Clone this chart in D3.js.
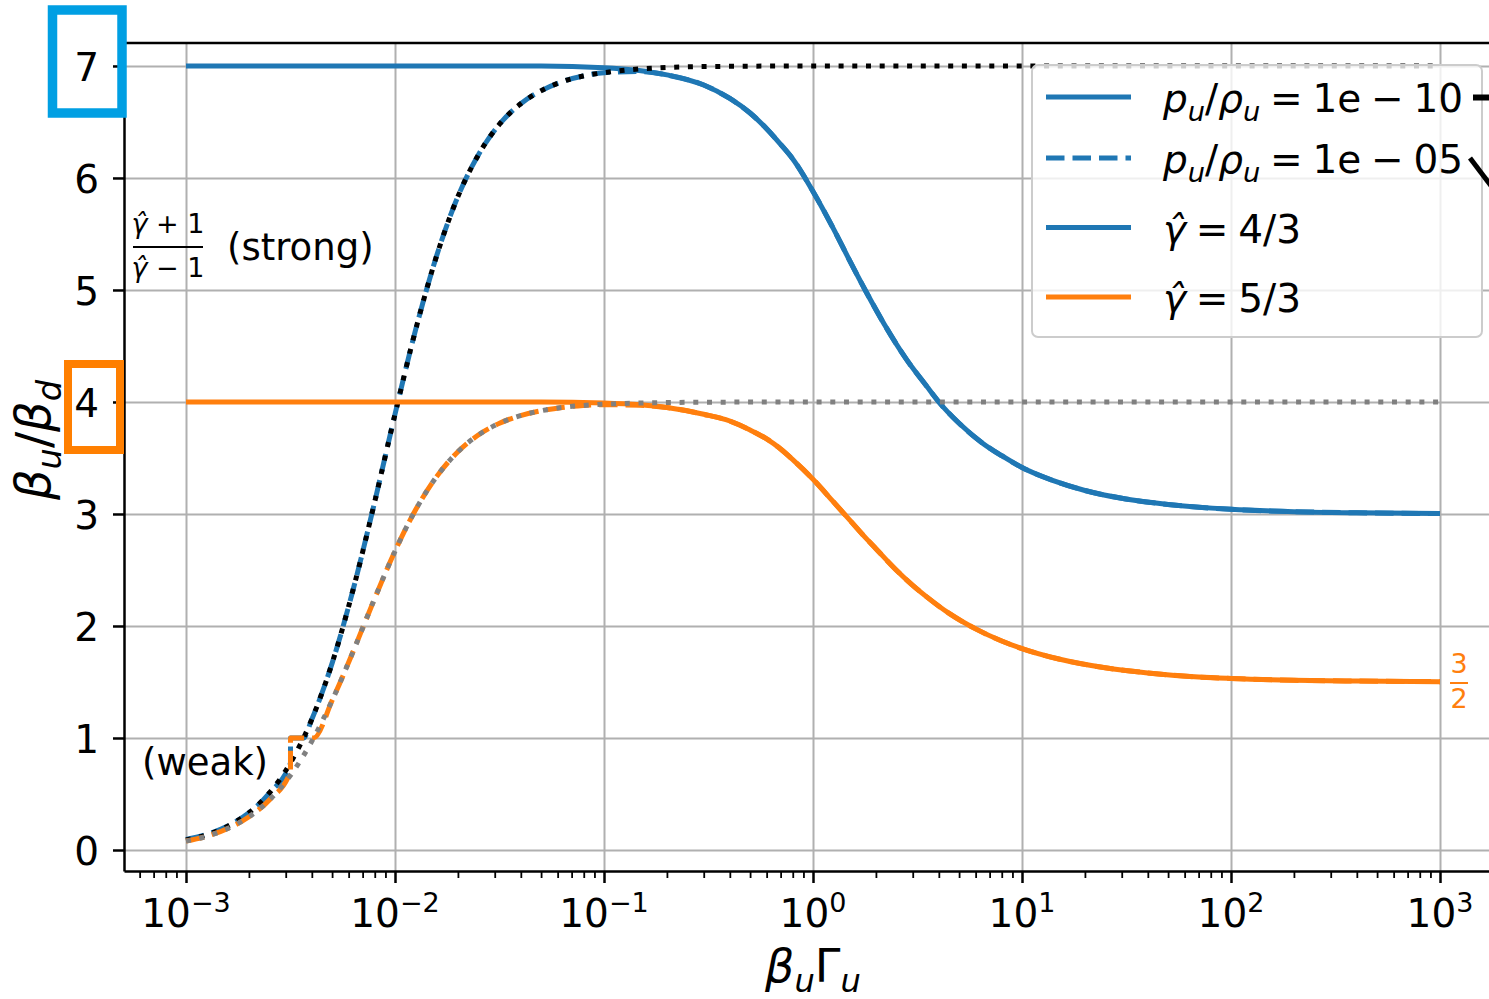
<!DOCTYPE html>
<html>
<head>
<meta charset="utf-8">
<script src="https://cdn.jsdelivr.net/npm/d3@7"></script>
<style>
  body { margin: 0; background: #ffffff; }
  svg text { font-family: "DejaVu Sans", sans-serif; }
</style>
</head>
<body>
<svg id="chart" width="1489" height="999"></svg>
<script>
// ---------- data ----------
// axis ticks
const xTickExps = [-3, -2, -1, 0, 1, 2, 3];
const yTicks = [0, 1, 2, 3, 4, 5, 6, 7];

// gamma_hat = 4/3, p_u/rho_u = 1e-10 (solid blue)
const blueSolidX = [0.001, 0.01, 0.05, 0.1, 0.2, 0.3, 0.4, 0.5, 0.6, 0.7, 0.8, 1.0, 1.25, 1.5, 1.8, 2.2, 2.8, 3.5, 4.0, 5.0, 6.5, 8, 10, 14, 20, 30, 50, 100, 200, 400, 1000];
const blueSolidY = [7.0, 7.0, 7.0, 6.985, 6.92, 6.83, 6.71, 6.58, 6.44, 6.30, 6.17, 5.88, 5.55, 5.26, 4.98, 4.69, 4.38, 4.14, 4.0, 3.81, 3.63, 3.52, 3.415, 3.30, 3.21, 3.14, 3.085, 3.042, 3.021, 3.011, 3.004];

// gamma_hat = 4/3, p_u/rho_u = 1e-5 (dashed blue)
const blueDashX = [0.001, 0.001259, 0.001585, 0.001995, 0.002512, 0.003162, 0.0031625, 0.00365, 0.003981, 0.005012, 0.00631, 0.007943, 0.01, 0.01259, 0.01585, 0.01995, 0.02512, 0.03162, 0.03981, 0.05012, 0.0631, 0.07943, 0.1, 0.15, 0.2, 0.3, 0.4, 0.5, 0.6, 0.7, 0.8, 1.0, 1.25, 1.5, 1.8, 2.2, 2.8, 3.5, 4.0, 5.0, 6.5, 8, 10, 14, 20, 30, 50, 100, 200, 400, 1000];
const blueDashY = [0.095, 0.14, 0.215, 0.33, 0.51, 0.778, 1.0, 1.0, 1.158, 1.673, 2.328, 3.086, 3.89, 4.654, 5.31, 5.829, 6.21, 6.48, 6.66, 6.78, 6.86, 6.91, 6.94, 6.95, 6.92, 6.83, 6.71, 6.58, 6.44, 6.30, 6.17, 5.88, 5.55, 5.26, 4.98, 4.69, 4.38, 4.14, 4.0, 3.81, 3.63, 3.52, 3.415, 3.30, 3.21, 3.14, 3.085, 3.042, 3.021, 3.011, 3.004];

// Rankine-Hugoniot ratio, gamma_hat = 4/3 (black dotted)
const blackDotX = [0.001, 0.001259, 0.001585, 0.001995, 0.002512, 0.003162, 0.003981, 0.005012, 0.00631, 0.007943, 0.01, 0.01259, 0.01585, 0.01995, 0.02512, 0.03162, 0.03981, 0.05012, 0.0631, 0.07943, 0.1, 0.1585, 0.3162, 1, 1000];
const blackDotY = [0.09, 0.136, 0.213, 0.331, 0.512, 0.778, 1.158, 1.673, 2.328, 3.086, 3.89, 4.654, 5.31, 5.829, 6.21, 6.48, 6.66, 6.78, 6.86, 6.91, 6.94, 6.977, 6.995, 7.0, 7.0];

// gamma_hat = 5/3, p_u/rho_u = 1e-10 (solid orange)
const orangeSolidX = [0.001, 0.01, 0.05, 0.1, 0.2, 0.3, 0.4, 0.5, 0.6, 0.7, 0.8, 1.0, 1.25, 1.5, 1.8, 2.0, 2.5, 3.0, 3.5, 4.5, 6, 8, 10, 15, 25, 40, 70, 100, 200, 400, 1000];
const orangeSolidY = [4.0, 4.0, 4.0, 3.99, 3.95, 3.89, 3.83, 3.75, 3.67, 3.58, 3.485, 3.31, 3.11, 2.945, 2.78, 2.69, 2.50, 2.363, 2.26, 2.11, 1.974, 1.866, 1.798, 1.705, 1.627, 1.581, 1.544, 1.531, 1.515, 1.508, 1.503];

// gamma_hat = 5/3, p_u/rho_u = 1e-5 (dashed orange)
const orangeDashX = [0.001, 0.001259, 0.001585, 0.001995, 0.002512, 0.003162, 0.0031625, 0.00408, 0.005012, 0.00631, 0.007943, 0.01, 0.01259, 0.01585, 0.01995, 0.02512, 0.03162, 0.03981, 0.05012, 0.0631, 0.07943, 0.1, 0.15, 0.2, 0.3, 0.4, 0.5, 0.6, 0.7, 0.8, 1.0, 1.25, 1.5, 1.8, 2.0, 2.5, 3.0, 3.5, 4.5, 6, 8, 10, 15, 25, 40, 70, 100, 200, 400, 1000];
const orangeDashY = [0.08, 0.123, 0.192, 0.295, 0.449, 0.70, 1.0, 1.0, 1.339, 1.774, 2.233, 2.668, 3.042, 3.336, 3.554, 3.707, 3.81, 3.878, 3.922, 3.951, 3.969, 3.975, 3.97, 3.95, 3.89, 3.83, 3.75, 3.67, 3.58, 3.485, 3.31, 3.11, 2.945, 2.78, 2.69, 2.50, 2.363, 2.26, 2.11, 1.974, 1.866, 1.798, 1.705, 1.627, 1.581, 1.544, 1.531, 1.515, 1.508, 1.503];

// Rankine-Hugoniot ratio, gamma_hat = 5/3 (grey dotted)
const greyDotX = [0.001, 0.001259, 0.001585, 0.001995, 0.002512, 0.003162, 0.003981, 0.005012, 0.00631, 0.007943, 0.01, 0.01259, 0.01585, 0.01995, 0.02512, 0.03162, 0.03981, 0.05012, 0.0631, 0.07943, 0.1, 0.1585, 0.3162, 1, 1000];
const greyDotY = [0.079, 0.123, 0.192, 0.295, 0.449, 0.667, 0.964, 1.339, 1.774, 2.233, 2.668, 3.042, 3.336, 3.554, 3.707, 3.81, 3.878, 3.922, 3.951, 3.969, 3.98, 3.992, 3.998, 4.0, 4.0];

const legendLabels = ["p_u/ρ_u\u2005=\u20051e\u2005−\u200510", "p_u/ρ_u\u2005=\u20051e\u2005−\u200505", "γ̂\u2005=\u20054/3", "γ̂\u2005=\u20055/3"];

// ---------- layout ----------
const C = { blue: "#1f77b4", orange: "#ff7f0e", grid: "#b0b0b0" };
const pL = 124, pT = 43, pB = 871, pR = 1502;
const decade = 209;

const x = d3.scaleLog()
  .domain([Math.pow(10, -3 - (186 - pL) / decade), Math.pow(10, 3 + (pR - 1440) / decade)])
  .range([pL, pR]);
const y = d3.scaleLinear().domain([-0.1875, 7.205]).range([pB, pT]);

const svg = d3.select("#chart");
const zip = (xs, ys) => xs.map((v, i) => [v, ys[i]]);

// small mathtext-like renderer: '_' makes the next glyph a subscript,
// latin and lowercase greek letters are italic
function mathInto(textSel, str, size) {
  const chars = Array.from(str);
  let shifted = 0;
  for (let i = 0; i < chars.length; i++) {
    let ch = chars[i];
    let sub = false;
    if (ch === "_") { sub = true; ch = chars[++i]; }
    if (chars[i + 1] === "\u0302") { ch += "\u0302"; i++; }
    const isItalic = /[a-zA-Zα-ω]/.test(ch[0]) && !(ch === "e" && !sub && /\d/.test(chars[i - 1] || ""));
    const t = textSel.append("tspan").text(ch)
      .attr("font-style", isItalic ? "italic" : "normal")
      .attr("font-size", sub ? size * 0.7 : size);
    const target = sub ? size * 0.22 : 0;
    if (target !== shifted) { t.attr("dy", target - shifted); shifted = target; }
  }
}

// ---------- grid ----------
const majorX = xTickExps.map(e => Math.pow(10, e));
svg.append("g").attr("transform", `translate(0,${pB})`)
  .call(d3.axisBottom(x).tickValues(majorX).tickSize(-(pB - pT)).tickFormat("").tickSizeOuter(0))
  .call(g => g.select(".domain").remove())
  .call(g => g.selectAll("line").attr("stroke", C.grid).attr("stroke-width", 2));
svg.append("g").attr("transform", `translate(${pL},0)`)
  .call(d3.axisLeft(y).tickValues(yTicks).tickSize(-(pR - pL)).tickFormat("").tickSizeOuter(0))
  .call(g => g.select(".domain").remove())
  .call(g => g.selectAll("line").attr("stroke", C.grid).attr("stroke-width", 2));

// ---------- curves ----------
const line = d3.line().x(d => x(d[0])).y(d => y(d[1])).curve(d3.curveMonotoneX);
const curves = svg.append("g").attr("fill", "none").attr("stroke-width", 5);
function drawCurve(xs, ys, color, dash) {
  curves.append("path").datum(zip(xs, ys))
    .attr("d", line).attr("stroke", color)
    .attr("stroke-dasharray", dash || null);
}
drawCurve(blueSolidX, blueSolidY, C.blue);
drawCurve(blueDashX, blueDashY, C.blue, "18.5,8");
drawCurve(blackDotX, blackDotY, "#000000", "5,8.7");
drawCurve(orangeSolidX, orangeSolidY, C.orange);
drawCurve(orangeDashX, orangeDashY, C.orange, "18.5,8");
drawCurve(greyDotX, greyDotY, "#808080", "5,8.7");

// ---------- axes ----------
const minorX = [];
for (let k = -4; k <= 3; k++) for (let m = 2; m <= 9; m++) {
  const v = m * Math.pow(10, k);
  if (v > x.domain()[0] && v < x.domain()[1]) minorX.push(v);
}
svg.append("g").attr("transform", `translate(0,${pB})`)
  .call(d3.axisBottom(x).tickValues(minorX).tickSize(7).tickFormat("").tickSizeOuter(0))
  .call(g => g.select(".domain").remove())
  .call(g => g.selectAll("line").attr("stroke", "#000").attr("stroke-width", 1.8));
const xAxis = svg.append("g").attr("transform", `translate(0,${pB})`)
  .call(d3.axisBottom(x).tickValues(majorX).tickSize(12).tickFormat("").tickSizeOuter(0));
xAxis.select(".domain").attr("stroke-width", 2.5);
xAxis.selectAll("line").attr("stroke-width", 2.5);
xAxis.selectAll(".tick text").remove();

const yAxis = svg.append("g").attr("transform", `translate(${pL},0)`)
  .call(d3.axisLeft(y).tickValues(yTicks).tickSize(11).tickPadding(14).tickSizeOuter(0));
yAxis.select(".domain").attr("stroke-width", 2.5);
yAxis.selectAll("line").attr("stroke-width", 2.5);
yAxis.selectAll(".tick text").attr("font-size", 39).attr("fill", "#000")
  .attr("font-family", "DejaVu Sans").attr("dy", "0.36em");

// top spine
svg.append("line").attr("x1", pL).attr("x2", pR).attr("y1", pT).attr("y2", pT)
  .attr("stroke", "#000").attr("stroke-width", 2.5);

// x tick labels 10^k
xTickExps.forEach(e => {
  const t = svg.append("text").attr("x", x(Math.pow(10, e))).attr("y", 927)
    .attr("text-anchor", "middle").attr("font-size", 39);
  t.append("tspan").text("10");
  t.append("tspan").text(e < 0 ? "−" + (-e) : String(e)).attr("font-size", 27).attr("dy", -15);
});

// axis labels
const xl = svg.append("text").attr("x", 813).attr("y", 982).attr("text-anchor", "middle");
mathInto(xl, "β_uΓ_u", 46);
const yl = svg.append("text").attr("transform", "translate(50,440) rotate(-90)").attr("text-anchor", "middle");
mathInto(yl, "β_u/β_d", 48);

// ---------- annotations ----------
const fracG = svg.append("g");
const num = fracG.append("text").attr("x", 168).attr("y", 233).attr("text-anchor", "middle");
mathInto(num, "γ̂ + 1", 27);
fracG.append("line").attr("x1", 133).attr("x2", 203).attr("y1", 247).attr("y2", 247)
  .attr("stroke", "#000").attr("stroke-width", 2);
const den = fracG.append("text").attr("x", 168).attr("y", 277).attr("text-anchor", "middle");
mathInto(den, "γ̂ − 1", 27);
svg.append("text").attr("x", 227).attr("y", 260).attr("font-size", 37).text("(strong)");
svg.append("text").attr("x", 142).attr("y", 775).attr("font-size", 37).text("(weak)");

// limiting ratio 3/2 for gamma_hat = 5/3
const lim = svg.append("g").attr("fill", C.orange);
lim.append("text").attr("x", 1459).attr("y", 673).attr("text-anchor", "middle").attr("font-size", 27).text("3");
lim.append("line").attr("x1", 1450).attr("x2", 1468).attr("y1", 683).attr("y2", 683)
  .attr("stroke", C.orange).attr("stroke-width", 2);
lim.append("text").attr("x", 1459).attr("y", 708).attr("text-anchor", "middle").attr("font-size", 27).text("2");

// ---------- legend ----------
const lg = svg.append("g");
lg.append("rect").attr("x", 1032).attr("y", 65).attr("width", 450).attr("height", 272)
  .attr("rx", 6).attr("fill", "#ffffff").attr("fill-opacity", 0.8)
  .attr("stroke", "#cccccc").attr("stroke-width", 2);
const legendStyles = [
  { color: C.blue, dash: null },
  { color: C.blue, dash: "18.5,8" },
  { color: C.blue, dash: null },
  { color: C.orange, dash: null }
];
const rowY = [97, 158, 227.5, 297];
legendLabels.forEach((lab, i) => {
  lg.append("line").attr("x1", 1046).attr("x2", 1131).attr("y1", rowY[i]).attr("y2", rowY[i])
    .attr("stroke", legendStyles[i].color).attr("stroke-width", 5)
    .attr("stroke-dasharray", legendStyles[i].dash);
  const t = lg.append("text").attr("x", 1163).attr("y", rowY[i] + 15);
  mathInto(t, lab, 39);
});

// arrow stubs entering from the right edge
svg.append("line").attr("x1", 1473).attr("x2", 1495).attr("y1", 97.5).attr("y2", 97.5)
  .attr("stroke", "#000").attr("stroke-width", 6);
svg.append("line").attr("x1", 1470).attr("x2", 1492).attr("y1", 158).attr("y2", 187)
  .attr("stroke", "#000").attr("stroke-width", 5);

// ---------- highlight boxes ----------
svg.append("rect").attr("x", 52.5).attr("y", 10).attr("width", 69.5).attr("height", 103)
  .attr("fill", "none").attr("stroke", "#009fe3").attr("stroke-width", 9.5);
svg.append("rect").attr("x", 68).attr("y", 364).attr("width", 52).attr("height", 86)
  .attr("fill", "none").attr("stroke", "#ff7f00").attr("stroke-width", 8);
</script>
</body>
</html>
